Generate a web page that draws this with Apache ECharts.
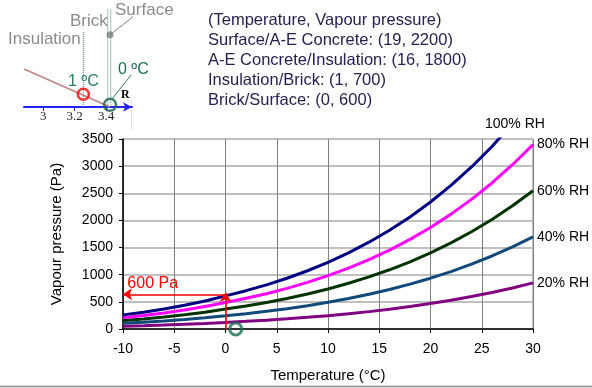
<!DOCTYPE html>
<html>
<head>
<meta charset="utf-8">
<script src="https://cdn.jsdelivr.net/npm/echarts@6/dist/echarts.min.js"></script>
<style>
  html, body { margin: 0; padding: 0; background: #fff; }
  #chart { width: 592px; height: 388px; }
</style>
</head>
<body>
<div id="chart"></div>
<script>
// temperature steps (°C)
const temps = [-10, -8, -6, -4, -2, 0, 2, 4, 6, 8, 10, 12, 14, 16, 18, 20, 22, 24, 26, 28, 30];
// vapour pressure (Pa)
const rh100 = [260, 310, 370, 437, 517, 611, 706, 813, 935, 1073, 1228, 1403, 1599, 1818, 2064, 2339, 2645, 2985, 3363, 3782, 4246];
const rh80 = [208, 248, 296, 350, 414, 489, 565, 650, 748, 858, 982, 1122, 1279, 1454, 1651, 1871, 2116, 2388, 2690, 3026, 3397];
const rh60 = [156, 186, 222, 262, 310, 367, 424, 488, 561, 644, 737, 842, 959, 1091, 1238, 1403, 1587, 1791, 2018, 2269, 2548];
const rh40 = [104, 124, 148, 175, 207, 244, 282, 325, 374, 429, 491, 561, 640, 727, 826, 936, 1058, 1194, 1345, 1513, 1698];
const rh20 = [52, 62, 74, 87, 103, 122, 141, 163, 187, 215, 246, 281, 320, 364, 413, 468, 529, 597, 673, 756, 849];
const seriesNames = ['100% RH', '80% RH', '60% RH', '40% RH', '20% RH'];

// annotations on the main chart
const surfacePoint = [[1, 0]];
const arrowUp = [[0, 0], [0, 670]];
const arrowLeft = [[0, 640], [-10, 640]];
const arrowLabelAt = [-7.1, 640];

// inset: R axis schematic
const insetTicks = [3, 3.2, 3.4];
const insetProfile = [[2.877, 3.55], [3.425, 0]];
const insetBrick = [[3.255, 7.0], [3.255, 0]];
const insetSurfA = [[3.41, 9.1], [3.41, 0]];
const insetSurfB = [[3.43, 9.1], [3.43, 0]];
const insetRed = [[3.255, 1.2]];
const insetGreen = [[3.425, 0.2]];
const insetDot = [[3.425, 6.75]];
const insetDotLeader = [[3.425, 6.75], [3.572, 8.45]];
const insetZeroLeader = [[3.44, 0.8], [3.56, 3.0]];

const textLines = [
  '(Temperature, Vapour pressure)',
  'Surface/A-E Concrete: (19, 2200)',
  'A-E Concrete/Insulation: (16, 1800)',
  'Insulation/Brick: (1, 700)',
  'Brick/Surface: (0, 600)',
];

const FONT = 'Liberation Sans, Arial, sans-serif';
const pair = (arr) => temps.map((t, i) => [t, arr[i]]);

const myChart = echarts.init(document.getElementById('chart'));

const curve = (name, arr, color, withEnd) => ({
  name,
  type: 'line',
  data: pair(arr),
  symbol: 'none',
  clip: true,
  lineStyle: { color, width: 3 },
  itemStyle: { color },
  endLabel: {
    show: withEnd,
    formatter: '{a}',
    color: '#000',
    fontSize: 14,
    fontFamily: FONT,
    distance: 4,
  },
  z: 3,
});

const insetLine = (data, color, width, type) => ({
  type: 'line',
  xAxisIndex: 1,
  yAxisIndex: 1,
  data,
  symbol: 'none',
  clip: false,
  lineStyle: { color, width, type },
  silent: true,
});

const insetRing = (data, color, size, bw) => ({
  type: 'scatter',
  xAxisIndex: 1,
  yAxisIndex: 1,
  data,
  symbol: 'circle',
  symbolSize: size,
  clip: false,
  itemStyle: { color: 'rgba(255,255,255,0)', borderColor: color, borderWidth: bw },
  silent: true,
  z: 5,
});

const option = {
  animation: false,
  backgroundColor: '#fff',
  textStyle: { fontFamily: FONT },
  grid: [
    {
      left: 123, right: 59, top: 139, bottom: 59,
      show: true, borderColor: '#808080', borderWidth: 1,
    },
    { left: 24, top: 0, width: 108, height: 107 },
  ],
  xAxis: [
    {
      type: 'value',
      min: -10,
      max: 30,
      interval: 5,
      name: 'Temperature (°C)',
      nameLocation: 'middle',
      nameGap: 39,
      nameTextStyle: { fontSize: 15, color: '#000', fontFamily: FONT },
      axisLine: { onZero: false, lineStyle: { color: '#000', width: 1.5 } },
      axisTick: { show: true, length: 4, lineStyle: { color: '#000' } },
      axisLabel: { fontSize: 14, color: '#000', margin: 13, fontFamily: FONT },
      splitLine: { show: true, lineStyle: { color: '#808080', width: 1 } },
    },
    {
      type: 'value',
      gridIndex: 1,
      min: 2.877,
      max: 3.565,
      axisLine: {
        show: true,
        onZero: false,
        symbol: ['none', 'arrow'],
        symbolSize: [7, 9],
        lineStyle: { color: '#2424ff', width: 2 },
      },
      axisTick: { show: true, length: 4, customValues: insetTicks, lineStyle: { color: '#2424ff' } },
      axisLabel: {
        customValues: insetTicks,
        fontFamily: 'Liberation Serif, DejaVu Serif, serif',
        fontSize: 13,
        color: '#222',
        margin: 3,
      },
      splitLine: { show: false },
    },
  ],
  yAxis: [
    {
      type: 'value',
      min: 0,
      max: 3500,
      interval: 500,
      name: 'Vapour pressure (Pa)',
      nameLocation: 'middle',
      nameGap: 59,
      nameTextStyle: { fontSize: 15, color: '#000', fontFamily: FONT },
      axisLine: { show: true, onZero: false, lineStyle: { color: '#000', width: 1.5 } },
      axisTick: { show: true, length: 4, lineStyle: { color: '#000' } },
      axisLabel: { fontSize: 14, color: '#000', margin: 10, fontFamily: FONT, formatter: (v) => String(v) },
      splitLine: { show: true, lineStyle: { color: '#c0c0c0', width: 2 } },
    },
    { type: 'value', gridIndex: 1, min: 0, max: 10, show: false },
  ],
  series: [
    curve(seriesNames[4], rh20, '#800080', true),
    curve(seriesNames[3], rh40, '#114a7a', true),
    curve(seriesNames[2], rh60, '#003300', true),
    curve(seriesNames[1], rh80, '#ff00ff', true),
    curve(seriesNames[0], rh100, '#000080', false),
    {
      type: 'scatter',
      data: surfacePoint,
      symbol: 'circle',
      symbolSize: 12,
      clip: false,
      itemStyle: { color: 'rgba(255,255,255,0)', borderColor: '#1d6a58', borderWidth: 3 },
      z: 6,
      markLine: {
        silent: true,
        animation: false,
        symbol: ['none', 'arrow'],
        symbolSize: 9,
        lineStyle: { color: '#ff0000', width: 1.5, type: 'solid' },
        label: { show: false },
        data: [
          [{ coord: arrowUp[0] }, { coord: arrowUp[1] }],
          [{ coord: arrowLeft[0] }, { coord: arrowLeft[1] }],
        ],
      },
      markPoint: {
        silent: true,
        symbol: 'circle',
        symbolSize: 0,
        data: [{ coord: arrowLabelAt }],
        label: {
          show: true,
          formatter: '600 Pa',
          position: 'top',
          distance: 3,
          color: '#ff0000',
          fontSize: 16,
          fontFamily: FONT,
        },
      },
    },
    // inset
    insetLine(insetProfile, '#c08484', 1.5, 'solid'),
    insetLine(insetBrick, '#2f8a78', 1, 'dotted'),
    insetLine(insetSurfA, '#2f8a78', 1, 'dotted'),
    insetLine(insetSurfB, '#2f8a78', 1, 'dotted'),
    insetLine(insetDotLeader, '#808080', 1, 'solid'),
    insetLine(insetZeroLeader, '#2f7f6a', 1, 'solid'),
    insetRing(insetRed, '#ff0000', 11, 2.5),
    insetRing(insetGreen, '#1d5e50', 12, 2.5),
    {
      type: 'scatter',
      xAxisIndex: 1,
      yAxisIndex: 1,
      data: insetDot,
      symbolSize: 7,
      clip: false,
      itemStyle: { color: '#808080' },
      silent: true,
    },
  ],
  graphic: [
    {
      type: 'text', left: 208, top: 10,
      style: {
        text: textLines.join('\n'), fontSize: 16.5, lineHeight: 20,
        fill: '#272152', fontFamily: FONT,
      },
    },
    { type: 'text', left: 485, top: 117, style: { text: seriesNames[0], fontSize: 14, fill: '#000', fontFamily: FONT } },
    { type: 'text', left: 115, top: 2, style: { text: 'Surface', fontSize: 17, fill: '#8c8c8c', fontFamily: FONT } },
    { type: 'text', left: 70, top: 13, style: { text: 'Brick', fontSize: 17, fill: '#8c8c8c', fontFamily: FONT } },
    { type: 'text', left: 8, top: 31, style: { text: 'Insulation', fontSize: 17, fill: '#8c8c8c', fontFamily: FONT } },
    { type: 'text', left: 68, top: 74, style: { text: '1 ºC', fontSize: 16, fill: '#2a7a5c', fontFamily: FONT } },
    { type: 'text', left: 118, top: 62, style: { text: '0 ºC', fontSize: 16, fill: '#1d6a58', fontFamily: FONT } },
    { type: 'text', left: 121, top: 89, style: { text: 'R', fontSize: 12, fontWeight: 'bold', fill: '#000', fontFamily: 'Liberation Serif, serif' } },
    { type: 'line', shape: { x1: 131.5, y1: 100, x2: 131.5, y2: 130 }, style: { stroke: '#e4e4e4', lineWidth: 1 } },
    { type: 'line', shape: { x1: 0, y1: 386.5, x2: 592, y2: 386.5 }, style: { stroke: '#a0a0a0', lineWidth: 2 } },
  ],
};

myChart.setOption(option);
</script>
</body>
</html>
